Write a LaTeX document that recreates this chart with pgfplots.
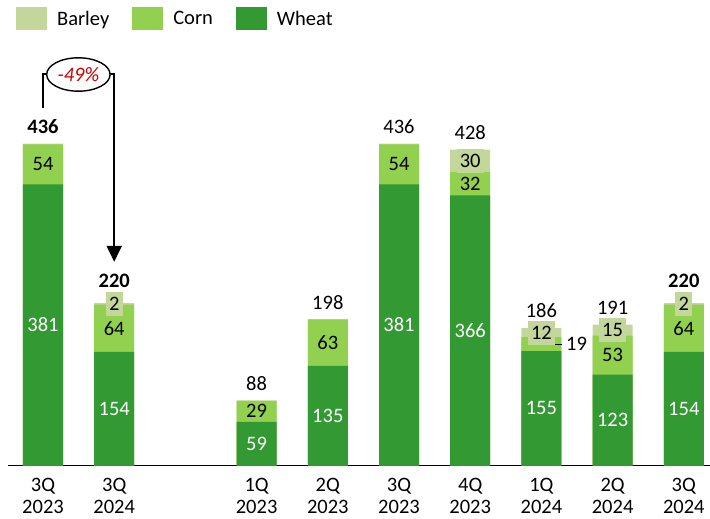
\documentclass[border=0pt]{standalone}
\usepackage{pgfplots}
\usepackage{pgfplotstable}
\pgfplotsset{compat=1.18}
\usepackage{fontspec}
\setmainfont{Carlito}
\usetikzlibrary{arrows.meta}
\definecolor{barleyc}{HTML}{C4D79B}
\definecolor{cornc}{HTML}{92D050}
\definecolor{wheatc}{HTML}{339933}
\definecolor{redc}{HTML}{D00000}
\newcommand\lf{\fontsize{20.5}{21.6}\selectfont}
\pgfplotstableread{
x wheat corn barley total
0 381 54 1 436
1 154 64 2 220
3 59 29 0 88
4 135 63 0 198
5 381 54 1 436
6 366 32 30 428
7 155 19 12 186
8 123 53 15 191
9 154 64 2 220
}\data
\begin{document}
\begin{tikzpicture}
\useasboundingbox (-43pt,-53.5pt) rectangle (667pt,465.5pt);
\begin{axis}[
  at={(0,0)}, anchor=origin,
  x=71.2pt, y=0.738pt,
  xmin=-0.487, xmax=9.37, ymin=0, ymax=580,
  clip=false,
  axis x line*=bottom, axis y line=none,
  x axis line style={line width=1.8pt, -},
  xtick={0,1,3,4,5,6,7,8,9},
  xticklabels={3Q\\2023,3Q\\2024,1Q\\2023,2Q\\2023,3Q\\2023,4Q\\2023,1Q\\2024,2Q\\2024,3Q\\2024},
  major tick length=0pt,
  xticklabel style={align=center, font=\lf, inner sep=0pt, anchor=north},
  xticklabel shift=12.5pt,
  /pgf/number format/assume math mode=true,
  legend columns=3,
  legend style={draw=none, fill=none, at={(0.0111,1.07)}, anchor=north west,
    inner sep=0pt, outer sep=0pt, font=\lf,
    /tikz/every odd column/.append style={column sep=10pt},
    /tikz/every even column/.append style={column sep=23pt},
    nodes={inner sep=0pt, anchor=west}},
]
% bars (overlapping, cumulative heights)
\addplot[ybar, bar width=40pt, bar shift=0pt, fill=barleyc, draw=none,
  legend image code/.code={\fill[barleyc] (0pt,-11.3pt) rectangle (31pt,11.3pt);}]
  table[x=x, y expr=\thisrow{wheat}+\thisrow{corn}+\thisrow{barley}]{\data};
\addlegendentry{Barley}
\addplot[ybar, bar width=40pt, bar shift=0pt, fill=cornc, draw=none,
  legend image code/.code={\fill[cornc] (0pt,-11.3pt) rectangle (31pt,11.3pt);}]
  table[x=x, y expr=\thisrow{wheat}+\thisrow{corn}]{\data};
\addlegendentry{Corn}
\addplot[ybar, bar width=40pt, bar shift=0pt, fill=wheatc, draw=none,
  legend image code/.code={\fill[wheatc] (0pt,-11.3pt) rectangle (31pt,11.3pt);}]
  table[x=x, y=wheat]{\data};
\addlegendentry{Wheat}
% wheat labels
\addplot[draw=none, forget plot, nodes near coords, point meta=explicit,
  every node near coord/.append style={anchor=center, font=\lf, text=white}]
  table[x=x, y expr=\thisrow{wheat}/2, meta=wheat]{\data};
% corn labels
\addplot[draw=none, forget plot, nodes near coords, point meta=explicit,
  unbounded coords=discard, x filter/.expression={x==7 ? nan : x},
  every node near coord/.append style={anchor=center, font=\lf, text=black}]
  table[x=x, y expr=\thisrow{wheat}+\thisrow{corn}/2, meta=corn]{\data};
% barley labels
\addplot[draw=none, forget plot, nodes near coords, point meta=explicit,
  unbounded coords=discard, x filter/.expression={(x==1||x==6||x==7||x==8||x==9) ? x : nan},
  every node near coord/.append style={anchor=center, font=\lf, text=black,
    fill=barleyc, inner xsep=3.3pt, inner ysep=0pt, minimum height=24pt}]
  table[x=x, y expr=\thisrow{wheat}+\thisrow{corn}+\thisrow{barley}/2, meta=barley]{\data};
% total labels (regular)
\addplot[draw=none, forget plot, nodes near coords, point meta=explicit,
  unbounded coords=discard, x filter/.expression={(x>2.5 && x<8.5) ? x : nan},
  every node near coord/.append style={anchor=base, font=\lf, text=black, inner sep=0pt, yshift=10.3pt}]
  table[x=x, y=total, meta=total]{\data};
% total labels (bold)
\addplot[draw=none, forget plot, nodes near coords, point meta=explicit,
  unbounded coords=discard, x filter/.expression={(x<0.5) ? x : nan},
  every node near coord/.append style={anchor=base, font=\lf\bfseries, text=black, inner sep=0pt, yshift=10.3pt}]
  table[x=x, y=total, meta=total]{\data};
\addplot[draw=none, forget plot, nodes near coords, point meta=explicit,
  unbounded coords=discard, x filter/.expression={(x>0.5 && x<1.5) || x>8.5 ? x : nan},
  every node near coord/.append style={anchor=base, font=\lf\bfseries, text=black, inner sep=0pt, yshift=16pt}]
  table[x=x, y=total, meta=total]{\data};
% 1Q2024 corn label outside
\draw[line width=0.9pt] ([xshift=14pt]axis cs:7,164.5) -- ([xshift=20.5pt]axis cs:7,164.5);
\node[font=\lf, anchor=west, inner sep=0pt] at ([xshift=24.5pt]axis cs:7,164.5) {19};
% annotation
\draw[line width=2pt] (axis cs:0,485) -- (axis cs:0,529.8) -- (axis cs:0.052,529.8);
\draw[line width=1.4pt] (axis cs:0.497,529.8) ellipse [x radius=31.7pt, y radius=16.7pt];
\node[text=redc, font=\lf\itshape] at (axis cs:0.497,529.8) {-49\%};
\draw[line width=2pt, -{Triangle[width=15pt,length=16pt]}] (axis cs:0.942,529.8) -- (axis cs:1,529.8) -- (axis cs:1,276);
\end{axis}
\end{tikzpicture}
\end{document}
